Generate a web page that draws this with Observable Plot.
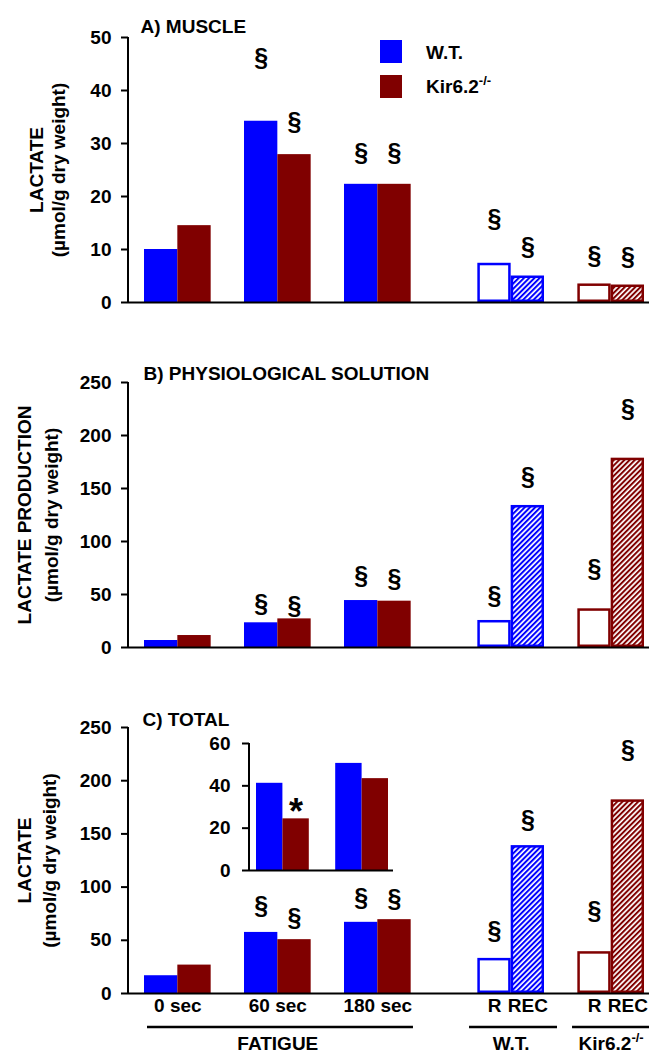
<!DOCTYPE html>
<html>
<head>
<meta charset="utf-8">
<script src="https://cdn.jsdelivr.net/npm/d3@7"></script>
<script src="https://cdn.jsdelivr.net/npm/@observablehq/plot@0.6"></script>
<style>
  body { margin: 0; background: #fff; }
  #root { position: relative; width: 649px; height: 1059px; overflow: hidden; background: #fff;
          font-family: "Liberation Sans", Arial, Helvetica, sans-serif; }
  #root > svg { position: absolute; overflow: visible; }
</style>
</head>
<body>
<div id="root">
  <svg width="0" height="0" style="position:absolute;left:0;top:0">
    <defs>
      <pattern id="hatch-wt" patternUnits="userSpaceOnUse" width="3.7" height="3.7" patternTransform="rotate(45)">
        <rect width="3.7" height="3.7" fill="#ffffff"></rect>
        <rect width="2.0" height="3.7" fill="#0000ff"></rect>
      </pattern>
      <pattern id="hatch-ko" patternUnits="userSpaceOnUse" width="3.7" height="3.7" patternTransform="rotate(45)">
        <rect width="3.7" height="3.7" fill="#ffffff"></rect>
        <rect width="2.0" height="3.7" fill="#800000"></rect>
      </pattern>
    </defs>
  </svg>
</div>
<script>
// ---------------- DATA ----------------
const fatigueTimes = ["0 sec", "60 sec", "180 sec"];
const genotypes = ["W.T.", "Kir6.2-/-"];
const recoveryPhases = ["R", "REC"];

// A) MUSCLE lactate (µmol/g dry weight)
const muscleWT = [10.0, 34.2, 22.3];
const muscleKO = [14.5, 27.9, 22.3];
const muscleRecWT = [7.4, 5.0];
const muscleRecKO = [3.5, 3.3];
// level of the § markers (data units)
const muscleSigWT = [null, 46.2, 28.2];
const muscleSigKO = [null, 34.0, 28.2];
const muscleRecSigWT = [15.8, 10.4];
const muscleRecSigKO = [8.8, 8.5];

// B) PHYSIOLOGICAL SOLUTION lactate production
const solWT = [6.6, 23.3, 44.3];
const solKO = [11.3, 27.0, 43.7];
const solRecWT = [25.5, 134];
const solRecKO = [36.5, 178.6];
const solSigWT = [null, 41.5, 67.9];
const solSigKO = [null, 39.6, 64.8];
const solRecSigWT = [49, 160.7];
const solRecSigKO = [74.2, 225];

// C) TOTAL lactate
const totWT = [16.7, 57.4, 66.9];
const totKO = [26.7, 50.6, 69.4];
const totRecWT = [33, 139];
const totRecKO = [39.3, 182];
const totSigWT = [null, 82.6, 89.8];
const totSigKO = [null, 70.6, 88.9];
const totRecSigWT = [59, 162.6];
const totRecSigKO = [78, 228.5];

// Inset of C
const insetTimes = ["60 sec", "180 sec"];
const insetWT = [41.2, 50.6];
const insetKO = [24.4, 43.4];
const insetStar = [null, 31.6, null, null]; // per bar: 60 WT, 60 KO, 180 WT, 180 KO

const ticksA = [0, 10, 20, 30, 40, 50];
const ticksBC = [0, 50, 100, 150, 200, 250];
const ticksInset = [0, 20, 40, 60];

// ---------------- BUILD ----------------
const FONT = "Liberation Sans, Arial, Helvetica, sans-serif";
const WT_COLOR = "#0000ff", KO_COLOR = "#800000";
const FS = 19;
const SIG_FS = 25;

function buildRows(wt, ko, recWT, recKO, sWT, sKO, rsWT, rsKO) {
  const rows = [];
  fatigueTimes.forEach((t, i) => {
    rows.push({key: t + "|WT", genotype: genotypes[0], phase: "fatigue", value: wt[i], sig: sWT[i]});
    rows.push({key: t + "|KO", genotype: genotypes[1], phase: "fatigue", value: ko[i], sig: sKO[i]});
  });
  recoveryPhases.forEach((p, i) => rows.push({key: "WT|" + p, genotype: genotypes[0], phase: p, value: recWT[i], sig: rsWT[i]}));
  recoveryPhases.forEach((p, i) => rows.push({key: "KO|" + p, genotype: genotypes[1], phase: p, value: recKO[i], sig: rsKO[i]}));
  return rows;
}

const xDomain = [];
fatigueTimes.forEach(t => xDomain.push(t + "|WT", t + "|KO", "gap " + t));
xDomain.push("gap extra");
recoveryPhases.forEach(p => xDomain.push("WT|" + p));
xDomain.push("gap rec");
recoveryPhases.forEach(p => xDomain.push("KO|" + p));
const xRange = [144, 644];
const step = (xRange[1] - xRange[0]) / xDomain.length;

const colorOf = d => d.genotype === genotypes[0] ? WT_COLOR : KO_COLOR;
const fillOf = d => d.phase === "R" ? "#ffffff" : (d.genotype === genotypes[0] ? "url(#hatch-wt)" : "url(#hatch-ko)");

function yAxisLine(index, scales, values, dims) {
  const [d0, d1] = scales.y.domain();
  return d3.create("svg:line")
    .attr("x1", dims.marginLeft).attr("x2", dims.marginLeft)
    .attr("y1", scales.y(d1)).attr("y2", scales.y(d0))
    .attr("stroke", "black").attr("stroke-width", 2).node();
}

function panel(cfg) {
  const rows = cfg.rows;
  const txt = {fontSize: FS, fontWeight: "bold", fontFamily: FONT};
  const marks = [
    Plot.barY(rows.filter(d => d.phase === "fatigue"), {x: "key", y: "value", fill: colorOf}),
    Plot.barY(rows.filter(d => d.phase !== "fatigue"), {x: "key", y: "value", fill: fillOf, stroke: colorOf, strokeWidth: 2.5, inset: 1.25}),
    Plot.text(rows.filter(d => d.sig != null), {x: "key", y: "sig", text: () => "§", fontSize: SIG_FS, fontWeight: "bold", fontFamily: FONT}),
    Plot.ruleY([0], {strokeWidth: 2}),
    yAxisLine,
    Plot.axisY({ticks: cfg.ticks, tickSize: 7, tickPadding: 10, strokeWidth: 2, label: null, ...txt}),
    Plot.text([cfg.title], {frameAnchor: "top-left", textAnchor: "start", dx: cfg.titleDx, dy: cfg.titleDy, ...txt}),
    Plot.text([cfg.ylabel[0]], {frameAnchor: "left", textAnchor: "middle", lineAnchor: "middle", rotate: -90, dx: cfg.ylabelDx[0], ...txt}),
    Plot.text([cfg.ylabel[1]], {frameAnchor: "left", textAnchor: "middle", lineAnchor: "middle", rotate: -90, dx: cfg.ylabelDx[1], ...txt}),
    ...(cfg.extra || [])
  ];
  const svg = Plot.plot({
    width: 649, height: cfg.height,
    marginLeft: 128, marginRight: 0, marginTop: cfg.mt, marginBottom: cfg.mb,
    x: {type: "band", domain: xDomain, range: xRange, padding: 0, round: false, axis: null},
    y: {domain: [0, cfg.ticks[cfg.ticks.length - 1]]},
    color: {type: "identity"},
    style: {fontFamily: FONT, fontWeight: "bold", fontSize: FS + "px", background: "transparent", overflow: "visible"},
    marks
  });
  svg.style.left = "0px";
  svg.style.top = cfg.top + "px";
  return svg;
}

const root = document.getElementById("root");

// Panel A
const svgA = panel({
  rows: buildRows(muscleWT, muscleKO, muscleRecWT, muscleRecKO, muscleSigWT, muscleSigKO, muscleRecSigWT, muscleRecSigKO),
  ticks: ticksA, top: 0, height: 340, mt: 37, mb: 38,
  title: "A) MUSCLE", titleDx: 12, titleDy: -18,
  ylabel: ["LACTATE", "(µmol/g dry weight)"], ylabelDx: [-92, -70]
});
root.appendChild(svgA);

// Legend (inside panel A svg)
const leg = d3.select(svgA).append("g").attr("font-family", FONT).attr("font-weight", "bold").attr("font-size", FS).attr("text-anchor", "start");
[[genotypes[0], WT_COLOR, 40, 59], [genotypes[1], KO_COLOR, 75, 93]].forEach(([name, col, y, base]) => {
  leg.append("rect").attr("x", 380).attr("y", y).attr("width", 22).attr("height", 23).attr("fill", col);
  const t = leg.append("text").attr("x", 426).attr("y", base).attr("fill", "black").attr("text-anchor", "start");
  if (name.includes("-/-")) {
    t.append("tspan").text(name.replace("-/-", ""));
    t.append("tspan").attr("dy", -8).attr("font-size", 13).text("-/-");
  } else t.text(name);
});

// Panel B
const svgB = panel({
  rows: buildRows(solWT, solKO, solRecWT, solRecKO, solSigWT, solSigKO, solRecSigWT, solRecSigKO),
  ticks: ticksBC, top: 340, height: 345, mt: 42, mb: 38,
  title: "B) PHYSIOLOGICAL SOLUTION", titleDx: 15, titleDy: -16.4,
  ylabel: ["LACTATE PRODUCTION", "(µmol/g dry weight)"], ylabelDx: [-104, -77]
});
root.appendChild(svgB);

// Panel C extras: category labels & group underlines
const spans = [
  {from: fatigueTimes[0] + "|WT", to: fatigueTimes[2] + "|KO", ext: [-3, 2.3]},
  {from: "WT|R", to: "WT|REC", ext: [8.3, 13]},
  {from: "KO|R", to: "KO|REC", ext: [5.3, 20]}
];
function underlines(index, scales, values, dims) {
  const x = scales.x, bw = x.bandwidth ? x.bandwidth() : step;
  const y = scales.y(0) + 34;
  const g = d3.create("svg:g").attr("stroke", "black").attr("stroke-width", 2.6);
  spans.forEach(s => g.append("line").attr("x1", x(s.from) - s.ext[0]).attr("x2", x(s.to) + bw + s.ext[1]).attr("y1", y).attr("y2", y));
  return g.node();
}
const recRows = [];
genotypes.forEach((g, gi) => recoveryPhases.forEach(p => recRows.push({key: (gi ? "KO|" : "WT|") + p, phase: p})));
const groupLabels = [
  {key: fatigueTimes[1] + "|WT", label: "FATIGUE"},
  {key: "WT|R", label: genotypes[0]},
  {key: "KO|R", label: genotypes[1]}
];
const textStyle = {fontSize: FS, fontWeight: "bold", fontFamily: FONT, frameAnchor: "bottom"};
const svgC = panel({
  rows: buildRows(totWT, totKO, totRecWT, totRecKO, totSigWT, totSigKO, totRecSigWT, totRecSigKO),
  ticks: ticksBC, top: 685, height: 374, mt: 42, mb: 66,
  title: "C) TOTAL", titleDx: 14, titleDy: -15,
  ylabel: ["LACTATE", "(µmol/g dry weight)"], ylabelDx: [-104, -79],
  extra: [
    Plot.text(fatigueTimes, {x: t => t + "|WT", text: t => t, dx: step / 2, dy: 18, ...textStyle}),
    Plot.text(recRows, {x: "key", text: "phase", dy: 18, ...textStyle}),
    Plot.text(groupLabels, {x: "key", text: "label", dx: step / 2, dy: 56, ...textStyle}),
    underlines
  ]
});
root.appendChild(svgC);

// superscript for Kir6.2-/- label
d3.select(svgC).selectAll("text").filter(function () { return this.textContent === genotypes[1]; }).each(function () {
  const t = d3.select(this);
  t.text("");
  t.append("tspan").text(genotypes[1].replace("-/-", ""));
  t.append("tspan").attr("dy", -8).attr("font-size", 13).text("-/-");
});

// Inset
const insetRows = [];
insetTimes.forEach((t, i) => {
  insetRows.push({key: t + "|WT", genotype: genotypes[0], value: insetWT[i], star: insetStar[i * 2]});
  insetRows.push({key: t + "|KO", genotype: genotypes[1], value: insetKO[i], star: insetStar[i * 2 + 1]});
});
const insetDomain = [insetTimes[0] + "|WT", insetTimes[0] + "|KO", "gap", insetTimes[1] + "|WT", insetTimes[1] + "|KO"];
const svgI = Plot.plot({
  width: 210, height: 160, marginLeft: 59, marginRight: 7, marginTop: 23, marginBottom: 10,
  x: {type: "band", domain: insetDomain, range: [66, 198], padding: 0, round: false, axis: null},
  y: {domain: [0, 60]},
  color: {type: "identity"},
  style: {fontFamily: FONT, fontWeight: "bold", fontSize: FS + "px", background: "transparent", overflow: "visible"},
  marks: [
    Plot.barY(insetRows, {x: "key", y: "value", fill: colorOf}),
    Plot.text(insetRows.filter(d => d.star != null), {x: "key", y: "star", text: () => "*", fontSize: 36, fontWeight: "bold", fontFamily: FONT, dy: 9}),
    Plot.ruleY([0], {strokeWidth: 2}),
    yAxisLine,
    Plot.axisY({ticks: ticksInset, tickSize: 7, tickPadding: 12, strokeWidth: 2, fontSize: FS, fontWeight: "bold", fontFamily: FONT, label: null})
  ]
});
svgI.style.left = "190px";
svgI.style.top = "720px";
root.appendChild(svgI);
</script>
</body>
</html>
